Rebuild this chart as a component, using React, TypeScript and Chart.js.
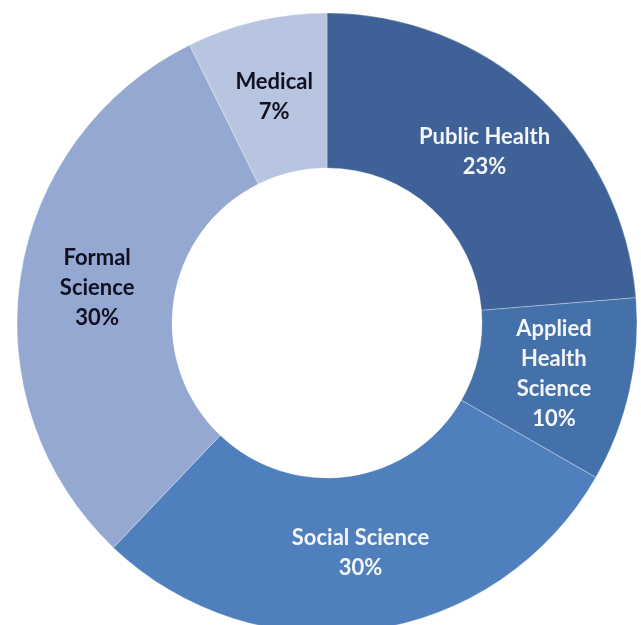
import React, { useEffect, useRef } from "react";
import { Chart, registerables } from "chart.js";

Chart.register(...registerables);

const categories = ["Public Health", "Applied Health Science", "Social Science", "Formal Science", "Medical"];
const shares = [23.7, 9.6, 28.8, 30.6, 7.3];
const percentLabels = ["23%", "10%", "30%", "30%", "7%"];
const labelLines = [
  ["Public Health"],
  ["Applied", "Health", "Science"],
  ["Social Science"],
  ["Formal", "Science"],
  ["Medical"],
];
const sliceColors = ["#3E6297", "#4571AB", "#4F80BD", "#94A8D1", "#B8C5E1"];
const textColors = ["#F4F6FA", "#F4F6FA", "#F4F6FA", "#101020", "#101020"];

const labelPlugin = {
  id: "sliceLabels",
  afterDatasetsDraw(chart: any) {
    const ctx = chart.ctx;
    const meta = chart.getDatasetMeta(0);
    ctx.save();
    ctx.font = "bold 22px Lato";
    ctx.textAlign = "center";
    ctx.textBaseline = "middle";
    meta.data.forEach((arc: any, i: number) => {
      const pos = arc.tooltipPosition();
      const lines = [...labelLines[i], percentLabels[i]];
      const lh = 30;
      const startY = pos.y - ((lines.length - 1) * lh) / 2;
      ctx.fillStyle = textColors[i];
      lines.forEach((t, j) => ctx.fillText(t, pos.x, startY + j * lh));
    });
    ctx.restore();
  },
};

export default function App() {
  const ref = useRef<HTMLCanvasElement>(null);
  useEffect(() => {
    if (!ref.current) return;
    const chart = new Chart(ref.current, {
      type: "doughnut",
      data: {
        labels: categories,
        datasets: [
          {
            data: shares,
            backgroundColor: sliceColors,
            borderColor: "rgba(255,255,255,0.3)",
            borderWidth: 1,
            hoverOffset: 0,
            hoverBorderWidth: 1,
          },
        ],
      },
      options: {
        responsive: false,
        animation: false,
        cutout: "50%",
        rotation: 0,
        layout: { padding: { left: 16.5, top: 12.5, right: 3.5, bottom: 16.5 } },
        plugins: {
          legend: { display: false },
          tooltip: { enabled: false },
        },
        events: [],
      },
      plugins: [labelPlugin],
    });
    return () => chart.destroy();
  }, []);
  return (
    <div
      style={{
        position: "fixed",
        left: 0,
        top: 0,
        width: 641,
        height: 625,
        overflow: "hidden",
        background: "#ffffff",
      }}
    >
      <canvas ref={ref} width={641} height={650} style={{ width: 641, height: 650, display: "block" }} />
    </div>
  );
}
